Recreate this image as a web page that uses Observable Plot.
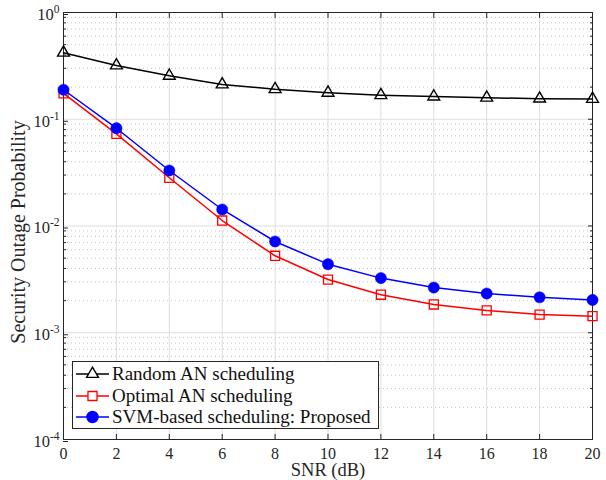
<!DOCTYPE html>
<html><head><meta charset="utf-8">
<script src="https://cdn.jsdelivr.net/npm/d3@7"></script>
<script src="https://cdn.jsdelivr.net/npm/@observablehq/plot@0.6"></script>
<style>
body{margin:0;background:#fff;}
#wrap{position:relative;width:606px;height:480px;font-family:"Liberation Serif",serif;color:#000;}
#legend{position:absolute;left:72px;top:361px;width:307px;height:68px;border:1px solid #262626;background:#fff;box-sizing:border-box;padding-top:1px;}
.row{height:21.7px;display:flex;align-items:center;white-space:nowrap;font-size:19px;color:#111;}
.row svg{margin-left:3px;margin-right:3px;flex:none;}
</style></head><body><div id="wrap"></div>
<script>
const snr = [0, 2, 4, 6, 8, 10, 12, 14, 16, 18, 20];
const randomAN = [0.42, 0.319, 0.255, 0.212, 0.191, 0.177, 0.168, 0.163, 0.159, 0.156, 0.155];
const optimalAN = [0.175, 0.073, 0.0283, 0.01125, 0.00526, 0.00315, 0.00227, 0.00184, 0.00162, 0.00148, 0.00143];
const svmProposed = [0.189, 0.0824, 0.0331, 0.01428, 0.00716, 0.00439, 0.00325, 0.00265, 0.00233, 0.00215, 0.00203];
const seriesNames = ["Random AN scheduling", "Optimal AN scheduling", "SVM-based scheduling: Proposed"];
const seriesColors = ["#000000", "#ff0000", "#0000ff"];
const xTicks = [0, 2, 4, 6, 8, 10, 12, 14, 16, 18, 20];
const yExponents = [-4, -3, -2, -1, 0];
const xLabel = "SNR (dB)";
const yLabel = "Security Outage Probability";

const yTicks = yExponents.map(e => Math.pow(10, e));
const yMinor = [];
yExponents.slice(0, -1).forEach(e => { for (let k = 2; k <= 9; k++) yMinor.push(k * Math.pow(10, e)); });

const rows = (vals) => snr.map((x, i) => ({x, y: vals[i]}));
const dRandom = rows(randomAN), dOptimal = rows(optimalAN), dSvm = rows(svmProposed);
const axisColor = "#262626";

const chart = Plot.plot({
  width: 606, height: 480,
  marginLeft: 63, marginRight: 14, marginTop: 12, marginBottom: 41,
  style: {fontFamily: "'Liberation Serif', serif", fontSize: "16px", color: axisColor, background: "#fff"},
  x: {domain: [0, 20]},
  y: {type: "log", domain: [1e-4, 1]},
  marks: [
    Plot.gridX(xTicks, {stroke: "#dedede", strokeOpacity: 1, strokeWidth: 1}),
    Plot.gridY(yMinor, {stroke: "#c4c4c4", strokeOpacity: 1, strokeDasharray: "1,3"}),
    Plot.gridY(yTicks, {stroke: "#dedede", strokeOpacity: 1}),
    Plot.axisX(xTicks, {anchor: "bottom", tickSize: -5, tickPadding: 13, label: null, tickFormat: d => String(d), stroke: axisColor, fill: "#262626"}),
    Plot.axisX(xTicks, {anchor: "top", tickSize: -5, label: null, tickFormat: () => "", stroke: axisColor}),
    Plot.axisY(yTicks, {anchor: "left", tickSize: -5, tickPadding: 9, dy: 2, label: null, fontSize: 16.5, tickFormat: d => "10^" + Math.round(Math.log10(d)), stroke: axisColor, fill: "#262626"}),
    Plot.axisY(yMinor, {anchor: "left", tickSize: -3, label: null, tickFormat: () => "", stroke: axisColor}),
    Plot.axisY(yTicks, {anchor: "right", tickSize: -5, label: null, tickFormat: () => "", stroke: axisColor}),
    Plot.axisY(yMinor, {anchor: "right", tickSize: -3, label: null, tickFormat: () => "", stroke: axisColor}),
    Plot.frame({stroke: axisColor, strokeWidth: 1}),
    Plot.line(dRandom, {x: "x", y: "y", stroke: seriesColors[0], strokeWidth: 1.5}),
    Plot.dot(dRandom, {x: "x", y: "y", symbol: "triangle", r: 4.4, stroke: seriesColors[0], fill: "none", strokeWidth: 1.4}),
    Plot.line(dOptimal, {x: "x", y: "y", stroke: seriesColors[1], strokeWidth: 1.5}),
    Plot.dot(dOptimal, {x: "x", y: "y", symbol: "square", r: 5.1, stroke: seriesColors[1], fill: "none", strokeWidth: 1.3}),
    Plot.line(dSvm, {x: "x", y: "y", stroke: seriesColors[2], strokeWidth: 1.5}),
    Plot.dot(dSvm, {x: "x", y: "y", r: 5.6, fill: seriesColors[2], stroke: seriesColors[2], strokeWidth: 0.5}),
    Plot.text([xLabel], {text: d => d, frameAnchor: "bottom", lineAnchor: "middle", textAnchor: "middle", dy: 30.5, fontSize: 18.5, fill: "#262626"}),
    Plot.text([yLabel], {text: d => d, frameAnchor: "left", lineAnchor: "middle", textAnchor: "middle", dx: -45, dy: 6, rotate: -90, fontSize: 20, fill: "#262626"})
  ]
});

// superscript exponents on y tick labels
d3.select(chart).selectAll("text").each(function() {
  const t = this.textContent;
  if (/^10\^-?\d+$/.test(t)) {
    const exp = t.split("^")[1];
    const sel = d3.select(this);
    sel.text("10");
    sel.append("tspan").attr("dy", "-7").attr("font-size", "11.5px").text(exp);
  }
});

const wrap = document.getElementById("wrap");
wrap.appendChild(chart);

// legend
const legend = document.createElement("div");
legend.id = "legend";
const symbols = ["triangle", "square", "circle"];
seriesNames.forEach((name, i) => {
  const row = document.createElement("div");
  row.className = "row";
  const ns = "http://www.w3.org/2000/svg";
  const s = document.createElementNS(ns, "svg");
  s.setAttribute("width", 33); s.setAttribute("height", 16);
  const ln = document.createElementNS(ns, "line");
  ln.setAttribute("x1", 0); ln.setAttribute("x2", 33); ln.setAttribute("y1", 8); ln.setAttribute("y2", 8);
  ln.setAttribute("stroke", seriesColors[i]); ln.setAttribute("stroke-width", 1.5);
  s.appendChild(ln);
  const p = document.createElementNS(ns, "path");
  const sym = symbols[i] === "triangle" ? d3.symbolTriangle : symbols[i] === "square" ? d3.symbolSquare : d3.symbolCircle;
  const size = symbols[i] === "triangle" ? Math.PI * 4.4 * 4.4 : symbols[i] === "square" ? Math.PI * 5.1 * 5.1 : Math.PI * 5.6 * 5.6;
  p.setAttribute("d", d3.symbol(sym, size)());
  p.setAttribute("transform", "translate(16.5,8)");
  p.setAttribute("fill", symbols[i] === "circle" ? seriesColors[i] : "#fff");
  p.setAttribute("stroke", seriesColors[i]);
  p.setAttribute("stroke-width", symbols[i] === "triangle" ? 1.4 : 1.3);
  s.appendChild(p);
  row.appendChild(s);
  const span = document.createElement("span");
  span.textContent = name;
  row.appendChild(span);
  legend.appendChild(row);
});
wrap.appendChild(legend);
</script>
</body></html>
